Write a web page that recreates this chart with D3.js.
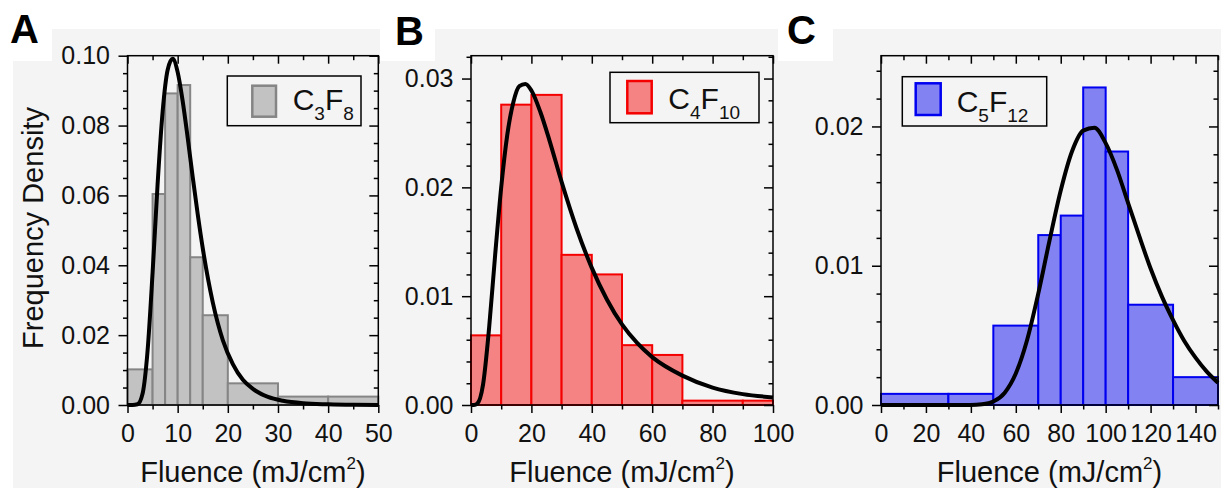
<!DOCTYPE html>
<html>
<head>
<meta charset="utf-8">
<script src="https://cdn.jsdelivr.net/npm/d3@7"></script>
<style>
  body { margin: 0; background: #fff; }
  svg { display: block; font-family: "Liberation Sans", Arial, sans-serif; }
</style>
</head>
<body>
<div id="figura"></div>
<script>
// ==============================
// DATOS
// ==============================

// A: C3F8
const c3f8Edges = [0, 5, 7.5, 10, 12.5, 15, 20, 30, 40, 50];
const c3f8Density = [0.0102, 0.0604, 0.0892, 0.0916, 0.0423, 0.0257, 0.0062, 0.0024, 0.0024];
const c3f8FitX = [0, 1, 2, 3, 4, 5, 6, 7, 8, 9, 10, 11, 12, 13, 14, 15, 17, 19, 21, 23, 25, 28, 31, 35, 40, 45, 50];
const c3f8FitY = [0, 0, 0.0002, 0.0032, 0.0155, 0.0378, 0.0632, 0.0839, 0.0959, 0.0991, 0.0953, 0.0870, 0.0765,
  0.0653, 0.0546, 0.0449, 0.0294, 0.0186, 0.0117, 0.0072, 0.0046, 0.0023, 0.0012, 0.0005, 0.0002, 0.00005, 0];
const c3f8XTicks = [0, 10, 20, 30, 40, 50];
const c3f8YTicks = [0, 0.02, 0.04, 0.06, 0.08, 0.10];

// B: C4F10
const c4f10Edges = [0, 10, 20, 30, 40, 50, 60, 70, 90, 100];
const c4f10Density = [0.0064, 0.0276, 0.0285, 0.0138, 0.0120, 0.0055, 0.0046, 0.0004, 0.0004];
const c4f10FitX = [0, 1, 2, 4, 6, 8, 10, 12, 14, 16, 18, 20, 23, 26, 30, 35, 40, 45, 50, 55, 60, 70, 80, 90, 100];
const c4f10FitY = [0, 0, 0.0001, 0.0019, 0.0071, 0.0138, 0.0200, 0.0248, 0.0278, 0.0293, 0.0295, 0.0289, 0.0269,
  0.0243, 0.0205, 0.0162, 0.0126, 0.0097, 0.0074, 0.0057, 0.0044, 0.0027, 0.0016, 0.0010, 0.0007];
const c4f10XTicks = [0, 20, 40, 60, 80, 100];
const c4f10YTicks = [0, 0.01, 0.02, 0.03];

// C: C5F12
const c5f12Edges = [0, 30, 50, 70, 80, 90, 100, 110, 130, 150];
const c5f12Density = [0.0008, 0.0008, 0.0057, 0.0122, 0.0136, 0.0228, 0.0182, 0.0072, 0.0020];
const c5f12FitX = [0, 20, 40, 45, 50, 55, 60, 65, 70, 75, 80, 85, 90, 95, 100, 105, 110, 115, 120, 125, 130, 135, 140, 145, 150];
const c5f12FitY = [0, 0, 0, 0.00005, 0.00025, 0.00087, 0.00226, 0.00465, 0.0080, 0.0118, 0.0154, 0.0182, 0.0197,
  0.0199, 0.0188, 0.0169, 0.0145, 0.0121, 0.0098, 0.0078, 0.0061, 0.0046, 0.0034, 0.0024, 0.0016];
const c5f12XTicks = [0, 20, 40, 60, 80, 100, 120, 140];
const c5f12YTicks = [0, 0.01, 0.02];

// ==============================
// CONFIGURACIÓN DE PANELES
// ==============================

const width = 1221;
const height = 491;
const plotTop = 55.7;
const plotBottom = 405;

const panels = [
  {
    letter: "A", letterX: 10, letterY: 43,
    edges: c3f8Edges, density: c3f8Density, fitX: c3f8FitX, fitY: c3f8FitY,
    xTicks: c3f8XTicks, yTicks: c3f8YTicks, xMinor: 5, yMinor: 0.005,
    left: 127.5, right: 378.3, xMax: 50, yMax: 0.10,
    fill: "#c2c2c2", stroke: "#858585",
    sub1: "3", sub2: "8",
    legend: { x: 227.3, y: 76, w: 133.7, h: 49.7, sx: 252.3, sy: 85.7, sw: 23.7, sh: 31, tx: 292.7, ty: 110 }
  },
  {
    letter: "B", letterX: 395, letterY: 45,
    edges: c4f10Edges, density: c4f10Density, fitX: c4f10FitX, fitY: c4f10FitY,
    xTicks: c4f10XTicks, yTicks: c4f10YTicks, xMinor: 10, yMinor: 0.002,
    left: 471, right: 773, xMax: 100, yMax: 0.0321,
    fill: "#f58383", stroke: "#f50000",
    sub1: "4", sub2: "10",
    legend: { x: 610, y: 72.3, w: 149, h: 50.4, sx: 627.3, sy: 81, sw: 24.4, sh: 32.3, tx: 668.3, ty: 108.5 }
  },
  {
    letter: "C", letterX: 787, letterY: 44,
    edges: c5f12Edges, density: c5f12Density, fitX: c5f12FitX, fitY: c5f12FitY,
    xTicks: c5f12XTicks, yTicks: c5f12YTicks, xMinor: 10, yMinor: 0.002,
    left: 881, right: 1218, xMax: 150, yMax: 0.02508,
    fill: "#8282f3", stroke: "#0000f0",
    sub1: "5", sub2: "12",
    legend: { x: 902.3, y: 76.7, w: 144.4, h: 49.3, sx: 915.7, sy: 83.3, sw: 25, sh: 31.7, tx: 956.7, ty: 111.5 }
  }
];

const svg = d3.select("#figura")
  .append("svg")
  .attr("width", width)
  .attr("height", height);

// Fondo gris con recortes blancos para las letras
svg.append("rect")
  .attr("x", 13).attr("y", 29)
  .attr("width", width - 13).attr("height", 459)
  .attr("fill", "#f4f4f4");

[[0, 52], [380, 435], [778, 833]].forEach(([a, b]) => {
  svg.append("rect")
    .attr("x", a).attr("y", 0)
    .attr("width", b - a).attr("height", 61)
    .attr("fill", "#fff");
});

function styleAxis(sel) {
  sel.select(".domain").remove();
  sel.selectAll(".tick line").attr("stroke", "#000").attr("stroke-width", 1.5);
  sel.selectAll(".tick text").attr("font-size", 25).attr("fill", "#111");
}

function minorValues(max, step, majors) {
  return d3.range(0, max + step / 2, step)
    .filter(v => v <= max + step / 100)
    .filter(v => !majors.some(m => Math.abs(m - v) < step / 10));
}

panels.forEach(p => {
  const x = d3.scaleLinear().domain([0, p.xMax]).range([p.left, p.right]);
  const y = d3.scaleLinear().domain([0, p.yMax]).range([plotBottom, plotTop]);
  const g = svg.append("g");

  // Histograma
  g.selectAll("rect.bar")
    .data(p.density.map((d, i) => ({ x0: p.edges[i], x1: p.edges[i + 1], v: d })))
    .join("rect")
    .attr("class", "bar")
    .attr("x", d => x(d.x0))
    .attr("y", d => y(d.v))
    .attr("width", d => x(d.x1) - x(d.x0))
    .attr("height", d => y(0) - y(d.v))
    .attr("fill", p.fill)
    .attr("stroke", p.stroke)
    .attr("stroke-width", 2);

  // Curva de ajuste
  const line = d3.line()
    .x(d => x(d[0]))
    .y(d => y(d[1]))
    .curve(d3.curveMonotoneX);

  g.append("path")
    .datum(p.fitX.map((v, i) => [v, p.fitY[i]]))
    .attr("d", line)
    .attr("fill", "none")
    .attr("stroke", "#000")
    .attr("stroke-width", 4)
    .attr("stroke-linejoin", "round");

  // Marco
  g.append("rect")
    .attr("x", p.left).attr("y", plotTop)
    .attr("width", p.right - p.left).attr("height", plotBottom - plotTop)
    .attr("fill", "none")
    .attr("stroke", "#000")
    .attr("stroke-width", 1.5);

  const xMinorTicks = minorValues(p.xMax, p.xMinor, p.xTicks);
  const yMinorTicks = minorValues(p.yMax, p.yMinor, p.yTicks);

  // Eje inferior
  g.append("g")
    .attr("transform", `translate(0,${plotBottom})`)
    .call(d3.axisBottom(x).tickValues(p.xTicks).tickSize(8).tickPadding(11).tickSizeOuter(0).tickFormat(d3.format("d")))
    .call(styleAxis);
  g.append("g")
    .attr("transform", `translate(0,${plotBottom})`)
    .call(d3.axisBottom(x).tickValues(xMinorTicks).tickSize(4.5).tickSizeOuter(0).tickFormat(""))
    .call(styleAxis);

  // Eje superior (marcas hacia dentro)
  g.append("g")
    .attr("transform", `translate(0,${plotTop})`)
    .call(d3.axisBottom(x).tickValues(p.xTicks).tickSize(8).tickSizeOuter(0).tickFormat(""))
    .call(styleAxis);
  g.append("g")
    .attr("transform", `translate(0,${plotTop})`)
    .call(d3.axisBottom(x).tickValues(xMinorTicks).tickSize(4.5).tickSizeOuter(0).tickFormat(""))
    .call(styleAxis);

  // Eje izquierdo
  g.append("g")
    .attr("transform", `translate(${p.left},0)`)
    .call(d3.axisLeft(y).tickValues(p.yTicks).tickSize(9).tickPadding(8.5).tickSizeOuter(0).tickFormat(d3.format(".2f")))
    .call(styleAxis);
  g.append("g")
    .attr("transform", `translate(${p.left},0)`)
    .call(d3.axisLeft(y).tickValues(yMinorTicks).tickSize(4.5).tickSizeOuter(0).tickFormat(""))
    .call(styleAxis);

  // Eje derecho (marcas hacia dentro)
  g.append("g")
    .attr("transform", `translate(${p.right},0)`)
    .call(d3.axisLeft(y).tickValues(p.yTicks).tickSize(9).tickSizeOuter(0).tickFormat(""))
    .call(styleAxis);
  g.append("g")
    .attr("transform", `translate(${p.right},0)`)
    .call(d3.axisLeft(y).tickValues(yMinorTicks).tickSize(4.5).tickSizeOuter(0).tickFormat(""))
    .call(styleAxis);

  // Leyenda
  const L = p.legend;
  g.append("rect")
    .attr("x", L.x).attr("y", L.y).attr("width", L.w).attr("height", L.h)
    .attr("fill", "none").attr("stroke", "#000").attr("stroke-width", 1.5);
  g.append("rect")
    .attr("x", L.sx).attr("y", L.sy).attr("width", L.sw).attr("height", L.sh)
    .attr("fill", p.fill).attr("stroke", p.stroke).attr("stroke-width", 2.5);

  const t = g.append("text")
    .attr("x", L.tx).attr("y", L.ty)
    .attr("font-size", 30).attr("fill", "#111");
  t.append("tspan").text("C");
  t.append("tspan").attr("font-size", 19).attr("dy", 10).text(p.sub1);
  t.append("tspan").attr("dy", -10).text("F");
  t.append("tspan").attr("font-size", 19).attr("dy", 10).text(p.sub2);

  // Título del eje X
  const xl = g.append("text")
    .attr("x", (p.left + p.right) / 2).attr("y", 482)
    .attr("text-anchor", "middle")
    .attr("font-size", 29).attr("fill", "#111");
  xl.append("tspan").text("Fluence (mJ/cm");
  xl.append("tspan").attr("font-size", 17).attr("dy", -13).text("2");
  xl.append("tspan").attr("dy", 13).text(")");

  // Letra del panel
  svg.append("text")
    .attr("x", p.letterX).attr("y", p.letterY)
    .attr("font-size", 40).attr("font-weight", "bold").attr("fill", "#000")
    .text(p.letter);
});

// Título del eje Y
svg.append("text")
  .attr("transform", "translate(43,228) rotate(-90)")
  .attr("text-anchor", "middle")
  .attr("font-size", 29).attr("fill", "#111")
  .text("Frequency Density");
</script>
</body>
</html>
